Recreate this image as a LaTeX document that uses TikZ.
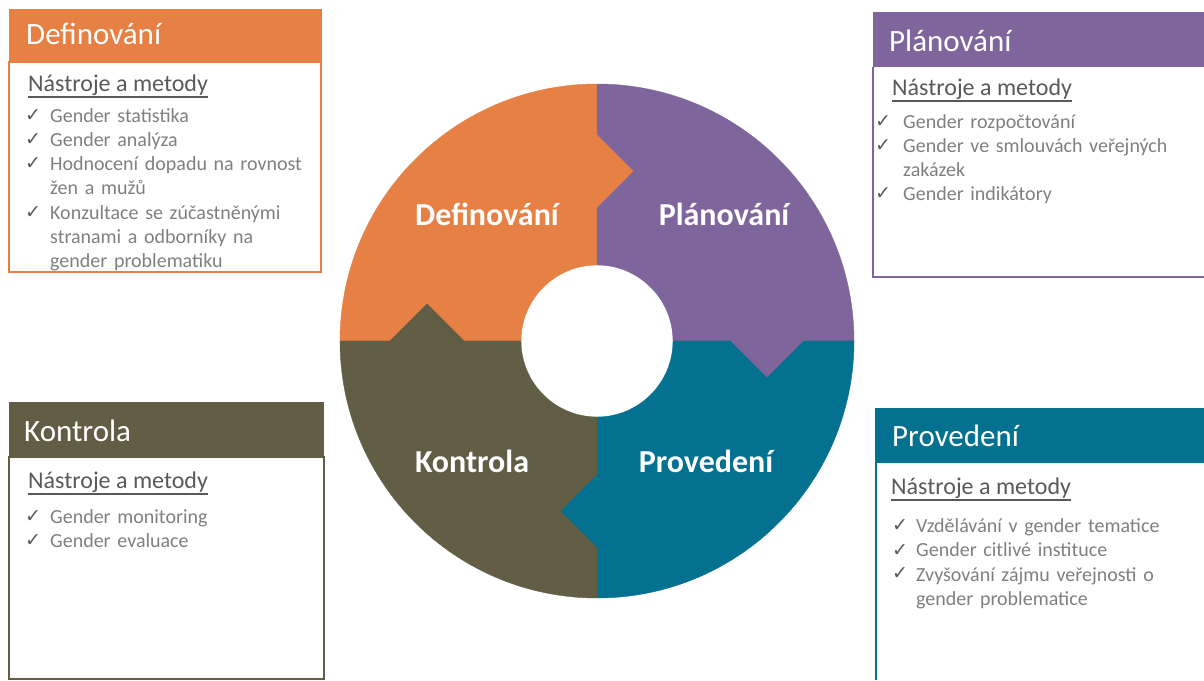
\documentclass[tikz,border=0pt]{standalone}
\usepackage{fontspec}
\setmainfont{Carlito}
\newfontfamily\znakfont{DejaVu Sans}
\usetikzlibrary{positioning}
\definecolor{oranzova}{RGB}{230,128,68}
\definecolor{fialova}{RGB}{126,101,155}
\definecolor{modra}{RGB}{3,113,143}
\definecolor{hneda}{RGB}{98,93,69}
\definecolor{seda}{RGB}{127,127,127}
\definecolor{tmavoseda}{RGB}{89,89,89}

\begin{document}
\begin{tikzpicture}[x=1pt,y=1pt]
	\tikzstyle{hlavicka}=[anchor=base west,inner sep=0,text=white,font=\fontsize{31}{36}\selectfont]
	\tikzstyle{nastroje}=[anchor=base west,inner sep=0,text=tmavoseda,font=\fontsize{24}{28}\selectfont]
	\tikzstyle{podtrzeni}=[tmavoseda,line width=1.2]
	\tikzset{polozka/.style={anchor=base west,inner sep=0,text=seda,text width=280pt,align=left,font=\fontsize{20}{24}\selectfont},
		fajfka/.style={anchor=base west,inner sep=0,text=tmavoseda,font=\znakfont\fontsize{19}{22}\selectfont},
		faze/.style={anchor=base,inner sep=0,text=white,font=\bfseries\fontsize{32}{38}\selectfont}}
	\useasboundingbox (0,0) rectangle (1204,680);
	% kolo
	\coordinate (S) at (597,339);
	\foreach \uhel/\barva in {0/oranzova,-90/fialova,-180/modra,-270/hneda}
		\filldraw[fill=\barva,draw=\barva,line width=0.4,shift={(S)},rotate=\uhel] (0,257) -- (0,207) -- (37,170) -- (0,133) -- (0,76)
			arc[start angle=90,end angle=180,radius=76] -- (-133,0) -- (-170,37) -- (-207,0) -- (-257,0)
			arc[start angle=180,end angle=90,radius=257] -- cycle;
	\node[faze] (kDef) at (487,454) {Definování};
	\node[faze] (kPlan) at (724,454) {Plánování};
	\node[faze] (kKon) at (472,207) {Kontrola};
	\node[faze] (kPro) at (706,207) {Provedení};
	% Definovani
	\fill[oranzova] (9,618) rectangle (322,671);
	\draw[oranzova,line width=1.5] (9,618) rectangle (321,408);
	\node[hlavicka] (hDef) at (26,635) {Definování};
	\node[nastroje] (nDef) at (28,588) {Nástroje a metody};
	\draw[podtrzeni] ([yshift=-5pt]nDef.base west) -- ([yshift=-5pt]nDef.base east);
	\node[fajfka] (fDef1) at (25,558) {✓};
	\node[polozka] (pDef1) at (50,557) {Gender statistika};
	\node[fajfka] (fDef2) at (25,534) {✓};
	\node[polozka] (pDef2) at (50,533) {Gender analýza};
	\node[fajfka] (fDef3) at (25,510) {✓};
	\node[polozka] (pDef3) at (50,509) {Hodnocení dopadu na rovnost\\žen a mužů};
	\node[fajfka] (fDef4) at (25,461) {✓};
	\node[polozka] (pDef4) at (50,460) {Konzultace se zúčastněnými\\stranami a odborníky na\\gender problematiku};
	% Planovani
	\fill[fialova] (873,613) rectangle (1204,668);
	\draw[fialova,line width=1.5] (873,613) -- (873,403) -- (1204,403);
	\node[hlavicka] (hPlan) at (889,628) {Plánování};
	\node[nastroje] (nPlan) at (892,584) {Nástroje a metody};
	\draw[podtrzeni] ([yshift=-5pt]nPlan.base west) -- ([yshift=-5pt]nPlan.base east);
	\node[fajfka] (fPlan1) at (875,552) {✓};
	\node[polozka] (pPlan1) at (903,551) {Gender rozpočtování};
	\node[fajfka] (fPlan2) at (875,528) {✓};
	\node[polozka] (pPlan2) at (903,527) {Gender ve smlouvách veřejných\\zakázek};
	\node[fajfka] (fPlan3) at (875,480) {✓};
	\node[polozka] (pPlan3) at (903,479) {Gender indikátory};
	% Kontrola
	\fill[hneda] (9,223) rectangle (324,278);
	\draw[hneda,line width=1.5] (9,223) rectangle (324,1);
	\node[hlavicka] (hKon) at (24,238) {Kontrola};
	\node[nastroje] (nKon) at (28,191) {Nástroje a metody};
	\draw[podtrzeni] ([yshift=-5pt]nKon.base west) -- ([yshift=-5pt]nKon.base east);
	\node[fajfka] (fKon1) at (25,157) {✓};
	\node[polozka] (pKon1) at (50,156) {Gender monitoring};
	\node[fajfka] (fKon2) at (25,133) {✓};
	\node[polozka] (pKon2) at (50,132) {Gender evaluace};
	% Provedeni
	\fill[modra] (875,217) rectangle (1204,272);
	\draw[modra,line width=2] (876,217) -- (876,0);
	\node[hlavicka] (hPro) at (892,233) {Provedení};
	\node[nastroje] (nPro) at (891,185) {Nástroje a metody};
	\draw[podtrzeni] ([yshift=-5pt]nPro.base west) -- ([yshift=-5pt]nPro.base east);
	\node[fajfka] (fPro1) at (892,148) {✓};
	\node[polozka] (pPro1) at (916,147) {Vzdělávání v gender tematice};
	\node[fajfka] (fPro2) at (892,124) {✓};
	\node[polozka] (pPro2) at (916,123) {Gender citlivé instituce};
	\node[fajfka] (fPro3) at (892,100) {✓};
	\node[polozka] (pPro3) at (916,99) {Zvyšování zájmu veřejnosti o\\gender problematice};
\end{tikzpicture}
\end{document}
